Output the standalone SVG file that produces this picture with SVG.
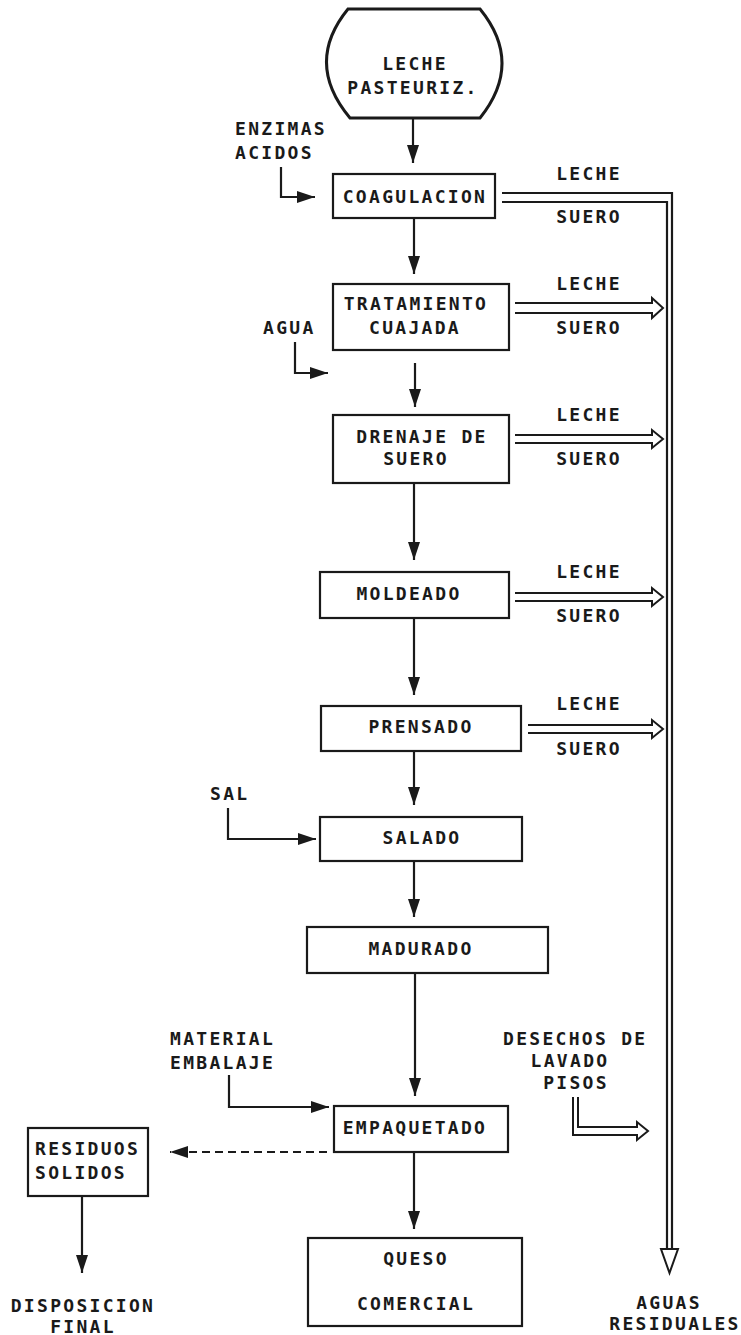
<svg xmlns="http://www.w3.org/2000/svg" width="741" height="1335" viewBox="0 0 741 1335">
<style>
text{font-family:"DejaVu Sans Mono","Liberation Mono",monospace;font-weight:bold;font-size:18px;letter-spacing:2.3px;fill:#1a1a1a}
.c{text-anchor:middle}
.box{fill:#fff;stroke:#1a1a1a;stroke-width:2.2}
.ln{fill:none;stroke:#1a1a1a;stroke-width:2.2}
.dbl{fill:#fff;stroke:#1a1a1a;stroke-width:2}
.dash{fill:none;stroke:#1a1a1a;stroke-width:2.2;stroke-dasharray:8 5}
</style>
<defs>
<marker id="ah" markerUnits="userSpaceOnUse" markerWidth="20" markerHeight="13" refX="18" refY="6" orient="auto">
<path d="M0,0 L18,6 L0,12 z" fill="#1a1a1a"/>
</marker>
</defs>
<rect width="741" height="1335" fill="#fff"/>

<g id="connectors">
<path class="ln" d="M413,118 V163" marker-end="url(#ah)"/>
<path class="ln" d="M281,167 V197 H315" marker-end="url(#ah)"/>
<path class="ln" d="M414,218 V274" marker-end="url(#ah)"/>
<path class="ln" d="M295,342 V373 H328" marker-end="url(#ah)"/>
<path class="ln" d="M415,363 V407" marker-end="url(#ah)"/>
<path class="ln" d="M414,483 V560" marker-end="url(#ah)"/>
<path class="ln" d="M414,618 V695" marker-end="url(#ah)"/>
<path class="ln" d="M414,751 V805" marker-end="url(#ah)"/>
<path class="ln" d="M228,808 V839 H316" marker-end="url(#ah)"/>
<path class="ln" d="M414,861 V917" marker-end="url(#ah)"/>
<path class="ln" d="M415,973 V1096" marker-end="url(#ah)"/>
<path class="ln" d="M229,1075 V1107 H329" marker-end="url(#ah)"/>
<path class="dash" d="M327,1152 H170" marker-end="url(#ah)"/>
<path class="ln" d="M414,1152 V1229" marker-end="url(#ah)"/>
<path class="ln" d="M82,1196 V1273" marker-end="url(#ah)"/>
<!-- main waste water channel -->
<path class="ln" stroke-width="2" d="M502,193 H672 V1249"/>
<path class="ln" stroke-width="2" d="M502,202 H667 V1249"/>
<polygon class="dbl" points="661,1249 678,1249 669.5,1273"/>
<!-- double arrows -->
<path class="dbl" d="M515,303 H652 V298 L663,308 L652,318 V313 H515"/>
<path class="dbl" d="M515,435 H652 V430 L663,439 L652,448 V443 H515"/>
<path class="dbl" d="M515,593 H652 V588 L663,597 L652,606 V601 H515"/>
<path class="dbl" d="M528,725 H652 V720 L663,729 L652,738 V733 H528"/>
<path class="dbl" d="M573,1097 V1135 H637 V1140 L648,1131 L637,1122 V1127 H578 V1097"/>
</g>

<g id="leche-pasteuriz">
<path d="M348,9 H480 Q524,63 480,118 H350 Q304,63 348,9 Z" fill="#fff" stroke="#1a1a1a" stroke-width="3"/>
<text class="c" x="415" y="70">LECHE</text>
<text class="c" x="413" y="94">PASTEURIZ.</text>
</g>

<g id="enzimas">
<text x="235" y="135">ENZIMAS</text>
<text x="235" y="159">ACIDOS</text>
</g>

<g id="coagulacion">
<rect class="box" x="333" y="174" width="162" height="44"/>
<text class="c" x="415" y="203">COAGULACION</text>
</g>
<g id="lbl-coag">
<text class="c" x="589" y="180">LECHE</text>
<text class="c" x="589" y="223">SUERO</text>
</g>

<g id="tratamiento">
<rect class="box" x="333" y="284" width="176" height="66"/>
<text class="c" x="416" y="310">TRATAMIENTO</text>
<text class="c" x="415" y="334">CUAJADA</text>
</g>
<g id="lbl-trat">
<text class="c" x="589" y="290">LECHE</text>
<text class="c" x="589" y="334">SUERO</text>
</g>
<g id="agua">
<text x="263" y="334">AGUA</text>
</g>

<g id="drenaje">
<rect class="box" x="333" y="415" width="176" height="68"/>
<text class="c" x="422" y="443">DRENAJE DE</text>
<text class="c" x="416" y="465">SUERO</text>
</g>
<g id="lbl-dren">
<text class="c" x="589" y="421">LECHE</text>
<text class="c" x="589" y="465">SUERO</text>
</g>

<g id="moldeado">
<rect class="box" x="320" y="572" width="189" height="46"/>
<text class="c" x="409" y="600">MOLDEADO</text>
</g>
<g id="lbl-mold">
<text class="c" x="589" y="578">LECHE</text>
<text class="c" x="589" y="622">SUERO</text>
</g>

<g id="prensado">
<rect class="box" x="321" y="706" width="200" height="45"/>
<text class="c" x="421" y="733">PRENSADO</text>
</g>
<g id="lbl-pren">
<text class="c" x="589" y="710">LECHE</text>
<text class="c" x="589" y="755">SUERO</text>
</g>

<g id="sal">
<text x="210" y="800">SAL</text>
</g>
<g id="salado">
<rect class="box" x="320" y="817" width="202" height="44"/>
<text class="c" x="422" y="844">SALADO</text>
</g>

<g id="madurado">
<rect class="box" x="307" y="927" width="241" height="46"/>
<text class="c" x="421" y="955">MADURADO</text>
</g>

<g id="material">
<text x="170" y="1045">MATERIAL</text>
<text x="170" y="1069">EMBALAJE</text>
</g>

<g id="empaquetado">
<rect class="box" x="334" y="1106" width="174" height="46"/>
<text class="c" x="415" y="1134">EMPAQUETADO</text>
</g>

<g id="desechos">
<text x="503" y="1045">DESECHOS DE</text>
<text class="c" x="570" y="1067">LAVADO</text>
<text class="c" x="576" y="1089">PISOS</text>
</g>

<g id="residuos">
<rect class="box" x="28" y="1128" width="120" height="68"/>
<text x="35" y="1155">RESIDUOS</text>
<text x="35" y="1179">SOLIDOS</text>
</g>

<g id="disposicion">
<text class="c" x="83" y="1312">DISPOSICION</text>
<text class="c" x="83" y="1333">FINAL</text>
</g>

<g id="queso">
<rect class="box" x="308" y="1238" width="214" height="88"/>
<text class="c" x="416" y="1265">QUESO</text>
<text class="c" x="416" y="1310">COMERCIAL</text>
</g>

<g id="aguas">
<text class="c" x="669" y="1309">AGUAS</text>
<text class="c" x="675" y="1330">RESIDUALES</text>
</g>
</svg>
